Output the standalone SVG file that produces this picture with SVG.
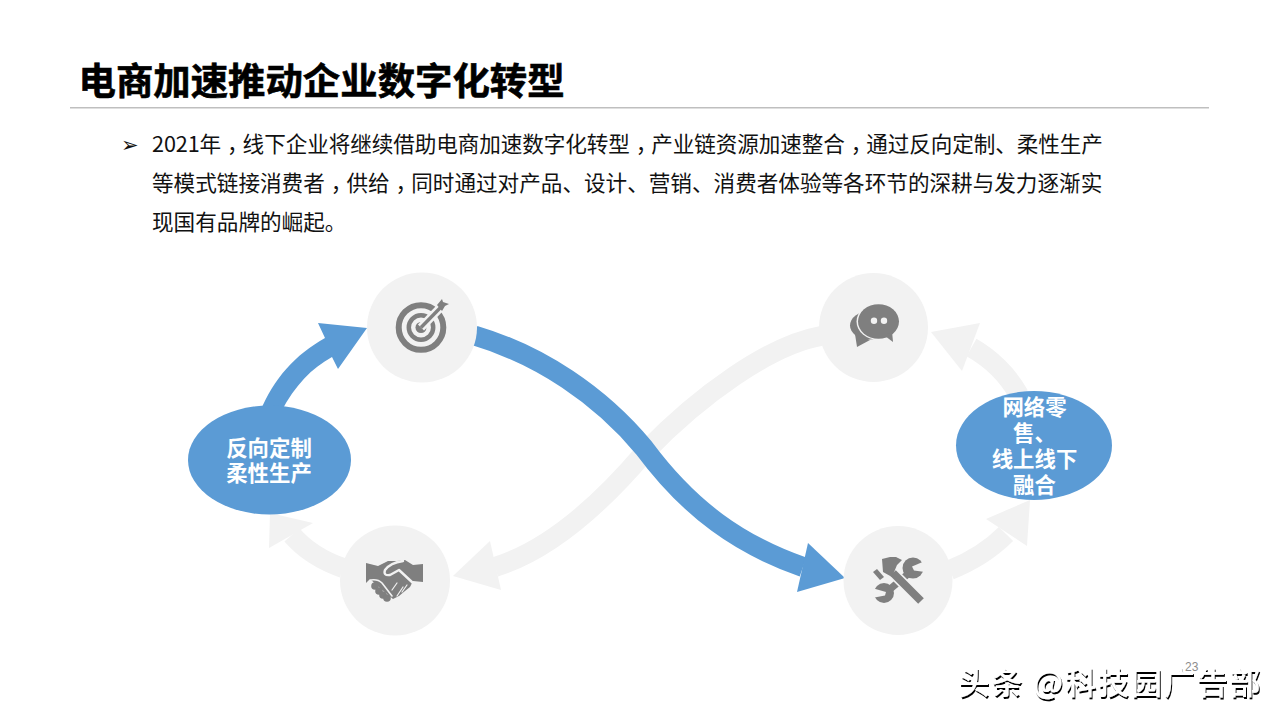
<svg xmlns="http://www.w3.org/2000/svg" width="1280" height="720" viewBox="0 0 1280 720">
<style>
.t{font-family:"Noto Sans CJK SC","Liberation Sans",sans-serif}
.title{font-size:37.4px;font-weight:700;fill:#000;stroke:#000;stroke-width:.6px}
.body{font-size:21.6px;fill:#111}
.lbl{font-size:21.4px;font-weight:700;fill:#fff;text-anchor:middle}
.bl{fill:none;stroke:#5b9bd5;stroke-width:20}
.gr{fill:none;stroke:#f2f2f2;stroke-width:20}
.bh{fill:#5b9bd5}.gh{fill:#f2f2f2}
.c{fill:#f2f2f2}.e{fill:#5b9bd5}.i{fill:#7f7f7f}
.gap{fill:none;stroke:#f2f2f2;stroke-linecap:round;stroke-linejoin:round}
</style>
<defs>
<filter id="wm" x="-5%" y="-20%" width="110%" height="140%">
<feOffset in="SourceAlpha" dx="0.6" dy="1.6" result="o"/>
<feFlood flood-color="#000"/>
<feComposite in2="o" operator="in"/>
<feMerge><feMergeNode/><feMergeNode in="SourceGraphic"/></feMerge>
</filter>
</defs>
<rect width="1280" height="720" fill="#fff"/>
<g id="header">
<text class="t title" x="78.5" y="95">电商加速推动企业数字化转型</text>
<rect x="70" y="107" width="1139" height="1.5" fill="#bfbfbf"/>
</g>
<g id="intro">
<text x="121" y="152" font-family="'DejaVu Sans',sans-serif" font-size="21" fill="#111">➢</text>
<text class="t body" x="152" y="152" letter-spacing="-0.09">2021年<tspan dx="6">，</tspan><tspan dx="-6">线</tspan>下企业将继续借助电商加速数字化转型<tspan dx="6">，</tspan><tspan dx="-6">产</tspan>业链资源加速整合<tspan dx="6">，</tspan><tspan dx="-6">通</tspan>过反向定制、柔性生产</text>
<text class="t body" x="152" y="191">等模式链接消费者<tspan dx="6">，</tspan><tspan dx="-6">供</tspan>给<tspan dx="6">，</tspan><tspan dx="-6">同</tspan>时通过对产品、设计、营销、消费者体验等各环节的深耕与发力逐渐实</text>
<text class="t body" x="152" y="230">现国有品牌的崛起。</text>
</g>
<g id="connectors">
<path class="gr" d="M821,336 C770,345 700,395 645,452 C600,505 550,550 495,567"/>
<polygon class="gh" points="490,541 453,576 501,590"/>
<path class="gr" d="M1019,395 C1008,375 990,358 971.5,347.5"/>
<polygon class="gh" points="980,323 931,332 962,371"/>
<path class="gr" d="M950,570 C970,562 990,550 1006,534"/>
<polygon class="gh" points="986,519 1030,500 1027,546"/>
<path class="gr" d="M343,568 C320,560 305,550 292,535"/>
<polygon class="gh" points="313,523 270,513 269,548"/>
<path class="bh" d="M260,412 C274,378 295,355 325,338 L318,323 L367,328 L338,369 L332,357 C312,368 295,385 281,412 Z"/>
<path class="bl" d="M474.5,335.5 C540,355 600,395 644,448 C690,510 740,545 803,567"/>
<polygon class="bh" points="808,543 845,578 797,592"/>
</g>
<g id="node-target">
<circle class="c" cx="422" cy="327.5" r="55"/>
<circle cx="421" cy="327.5" r="22.3" fill="none" stroke="#7f7f7f" stroke-width="6"/>
<circle cx="421" cy="327.5" r="12.2" fill="none" stroke="#7f7f7f" stroke-width="4.5"/>
<circle class="i" cx="421" cy="327.5" r="5.5"/>
<path d="M421,327.5 L442,306" stroke="#f2f2f2" stroke-width="8.5" fill="none"/>
<path d="M421,327.5 L442,306" stroke="#7f7f7f" stroke-width="3.4" fill="none"/>
<polygon class="i" points="442,299 443,302 449,304 445,306 442,311 437,305"/>
</g>
<g id="node-chat">
<circle class="c" cx="873.5" cy="327.5" r="54.5"/>
<ellipse class="i" cx="869" cy="325.5" rx="19" ry="14"/>
<polygon class="i" points="855,334 857,347 870,340"/>
<ellipse cx="878.5" cy="321.5" rx="22" ry="18.5" fill="#f2f2f2"/>
<ellipse class="i" cx="878.5" cy="321.5" rx="20.5" ry="17.3"/>
<polygon class="i" points="885,336 893,342 892,331"/>
<circle class="c" cx="874" cy="320.7" r="3.2"/>
<circle class="c" cx="884" cy="320.7" r="3.2"/>
</g>
<g id="node-handshake">
<circle class="c" cx="395" cy="580.5" r="55"/>
<polygon class="i" points="366,563 378,566 388,561 397,561 405,560 413,565 423,564 423,582 413,581 410,587 405,591 399,596 393,599 380,588 370,579 366,583"/>
<circle class="i" cx="375" cy="586" r="3.8"/>
<circle class="i" cx="379" cy="591" r="3.8"/>
<circle class="i" cx="383" cy="595" r="3.8"/>
<circle class="i" cx="387" cy="598" r="3.8"/>
<path class="gap" stroke-width="2.4" d="M403,561 Q390,563 385,570 Q383,576 390,575 L399,570 L413,583"/>
<path class="gap" stroke-width="1.6" d="M371,580 Q378,579 382,583 L392,596"/>
<path class="gap" stroke-width="1.2" d="M397,596 L403,587 M402,592 L407,585 M392,590 L397,583"/>
</g>
<g id="node-tools">
<circle class="c" cx="898" cy="580.5" r="54.5"/>
<circle class="i" cx="913" cy="568" r="10.5"/>
<circle class="i" cx="884" cy="593" r="10"/>
<path d="M908,574 L889,590" stroke="#7f7f7f" stroke-width="7" fill="none"/>
<polygon class="c" points="912,566.5 925,561 925,572 914,570.5"/>
<polygon class="c" points="886,592 872,588 872,598 885,595.5"/>
<path d="M893,573 L921,601" stroke="#f2f2f2" stroke-width="11" fill="none"/>
<path d="M893,573 L921,601" stroke="#7f7f7f" stroke-width="8" fill="none"/>
<polygon class="i" points="882,559 890,557 896,557 902,560 897,565 892,577 883,572"/>
<polygon class="i" points="873,572 877,569 884,577 880,580"/>
</g>
<g id="node-left">
<ellipse class="e" cx="269.5" cy="460" rx="81.5" ry="54.5"/>
<text class="t lbl" x="269" y="456">反向定制</text>
<text class="t lbl" x="269" y="481">柔性生产</text>
</g>
<g id="node-right">
<ellipse class="e" cx="1034" cy="445.5" rx="78" ry="54.5"/>
<text class="t lbl" x="1034.5" y="415">网络零</text>
<text class="t lbl" x="1034.5" y="441">售、</text>
<text class="t lbl" x="1034.5" y="467">线上线下</text>
<text class="t lbl" x="1034.5" y="493">融合</text>
</g>
<g id="footer">
<text x="1185" y="671" font-family="'Liberation Sans',sans-serif" font-size="12" fill="#8c8c8c">23</text>
<text class="t" x="958.5" y="694" font-size="31" font-weight="500" fill="#fff" filter="url(#wm)" textLength="302" lengthAdjust="spacing">头条 @科技园广告部</text>
</g>
</svg>
